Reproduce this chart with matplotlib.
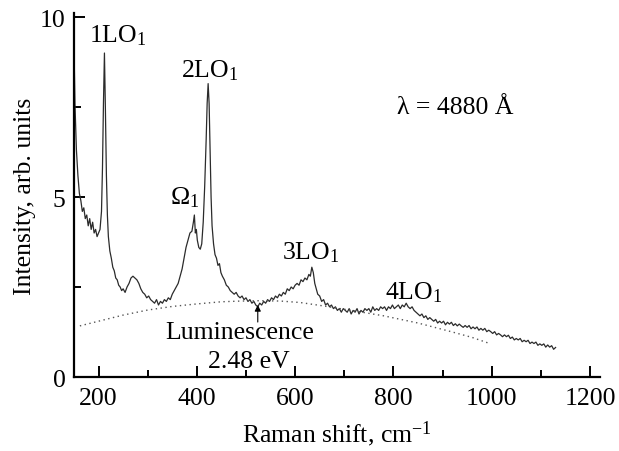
import matplotlib
matplotlib.use("Agg")
import matplotlib.pyplot as plt
from matplotlib.ticker import MultipleLocator

plt.rcParams['font.family'] = ['Liberation Serif', 'DejaVu Serif']
plt.rcParams['mathtext.fontset'] = 'custom'
plt.rcParams['mathtext.rm'] = 'Liberation Serif'
plt.rcParams['mathtext.default'] = 'regular'

FS = 18.5

# Raman spectrum (Raman shift in cm^-1, intensity in arb. units)
shift = [150, 152, 155, 158, 161, 164, 167, 170, 173, 176, 179, 182, 185, 188, 191, 194, 197, 200, 203,
         206, 208, 210, 212, 214, 216, 218, 220, 223, 226, 229, 232, 235, 238, 241, 244, 247, 250, 254,
         258, 262, 266, 270, 274, 278, 282, 286, 290, 294, 298, 302, 306, 310, 314, 318, 322, 326, 330,
         334, 338, 342, 346, 350, 354, 358, 362, 366, 370, 374, 378, 382, 386, 390, 393, 395, 397, 399,
         401, 404, 407, 410, 413, 416, 419, 421, 423, 425, 427, 429, 431, 434, 437, 440, 443, 446, 449,
         452, 456, 460, 464, 468, 472, 476, 480, 484, 488, 492, 496, 500, 504, 508, 512, 516, 520, 524,
         528, 532, 536, 540, 544, 548, 552, 556, 560, 564, 568, 572, 576, 580, 584, 588, 592, 596, 600,
         604, 608, 612, 616, 620, 624, 628, 631, 634, 637, 640, 643, 646, 650, 654, 658, 662, 666, 670,
         674, 678, 682, 686, 690, 694, 698, 702, 706, 710, 714, 718, 722, 726, 730, 734, 738, 742, 746,
         750, 754, 758, 762, 766, 770, 774, 778, 782, 786, 790, 794, 798, 802, 806, 810, 814, 818, 822,
         826, 830, 834, 838, 842, 846, 850, 854, 858, 862, 866, 870, 874, 878, 882, 886, 890, 894, 898,
         902, 906, 910, 914, 918, 922, 926, 930, 934, 938, 942, 946, 950, 954, 958, 962, 966, 970, 974,
         978, 982, 986, 990, 994, 998, 1002, 1006, 1010, 1014, 1018, 1022, 1026, 1030, 1034, 1038, 1042,
         1046, 1050, 1054, 1058, 1062, 1066, 1070, 1074, 1078, 1082, 1086, 1090, 1094, 1098, 1102, 1106,
         1110, 1114, 1118, 1122, 1126, 1130]
intensity = [9.2, 7.6, 6.3, 5.6, 5.1, 4.9, 4.6, 4.7, 4.4, 4.5, 4.2, 4.4, 4.1, 4.3, 4.0, 4.1, 3.9, 4.0, 4.1,
             4.6, 5.8, 7.6, 9.0, 7.4, 5.6, 4.5, 3.9, 3.5, 3.3, 3.05, 2.95, 2.75, 2.7, 2.55, 2.5, 2.4, 2.45, 2.35,
             2.5, 2.6, 2.75, 2.8, 2.75, 2.7, 2.6, 2.45, 2.35, 2.3, 2.2, 2.25, 2.15, 2.1, 2.05, 2.15, 2.0, 2.1, 2.05,
             2.15, 2.1, 2.2, 2.15, 2.3, 2.4, 2.5, 2.6, 2.8, 3.0, 3.3, 3.6, 3.8, 4.0, 4.05, 4.3, 4.5, 4.0, 4.1,
             3.8, 3.6, 3.55, 3.7, 4.3, 5.3, 6.6, 7.6, 8.15, 7.6, 6.3, 5.0, 4.2, 3.7, 3.4, 3.3, 3.1, 3.15, 2.9,
             2.8, 2.7, 2.55, 2.5, 2.4, 2.35, 2.3, 2.35, 2.25, 2.2, 2.25, 2.15, 2.2, 2.1, 2.15, 2.05, 2.1, 2.0, 1.95,
             2.05, 2.0, 2.1, 2.05, 2.15, 2.1, 2.2, 2.15, 2.25, 2.2, 2.3, 2.25, 2.35, 2.3, 2.45, 2.4, 2.5, 2.45, 2.55,
             2.6, 2.55, 2.7, 2.65, 2.75, 2.7, 2.85, 2.8, 3.05, 2.9, 2.6, 2.45, 2.3, 2.25, 2.1, 2.15, 2.0, 2.05, 1.95,
             2.0, 1.9, 1.95, 1.85, 1.9, 1.8, 1.9, 1.85, 1.8, 1.9, 1.75, 1.85, 1.8, 1.9, 1.75, 1.85, 1.8, 1.9, 1.85,
             1.9, 1.8, 1.95, 1.85, 1.9, 1.85, 1.95, 1.9, 1.95, 1.85, 1.95, 1.9, 2.0, 1.9, 1.95, 2.0, 1.9, 2.0, 1.95,
             2.05, 1.95, 1.9, 1.95, 1.85, 1.8, 1.75, 1.7, 1.75, 1.65, 1.7, 1.6, 1.65, 1.6, 1.55, 1.6, 1.5, 1.55, 1.5,
             1.55, 1.45, 1.52, 1.47, 1.52, 1.43, 1.48, 1.42, 1.47, 1.42, 1.38, 1.43, 1.38, 1.43, 1.34, 1.39, 1.34, 1.39, 1.3,
             1.35, 1.3, 1.35, 1.26, 1.3, 1.26, 1.21, 1.26, 1.17, 1.21, 1.17, 1.12, 1.17, 1.12, 1.16, 1.07, 1.11,
             1.03, 1.07, 1.03, 1.07, 0.98, 1.02, 0.98, 1.02, 0.93, 0.97, 0.93, 0.97, 0.88, 0.92, 0.88, 0.92,
             0.83, 0.89, 0.83, 0.87, 0.77, 0.82]

# Broad luminescence background (dotted)
lum_shift = [162, 200, 250, 300, 350, 400, 450, 490, 530, 570, 610, 650, 710, 780, 850, 920, 960, 996]
lum_intensity = [1.42, 1.55, 1.72, 1.86, 1.96, 2.03, 2.09, 2.11, 2.12, 2.11, 2.07, 1.99, 1.86, 1.7, 1.5, 1.25, 1.1, 0.93]

peak_labels = ['1LO$_1$', '2LO$_1$', '$\u03A9_1$', '3LO$_1$', '4LO$_1$']
peak_label_pos = [(239, 9.5), (426, 8.55), (375, 5.0), (632, 3.47), (842, 2.36)]

fig = plt.figure(figsize=(6.19, 4.52), dpi=100)
ax = fig.add_axes([0.1195, 0.1637, 0.8495, 0.8044])

ax.plot(shift, intensity, color='#2b2b2b', lw=0.9)
ax.plot(lum_shift, lum_intensity, color='#555555', lw=1.0, linestyle=(0, (1, 2.5)))

for txt, (px, py) in zip(peak_labels, peak_label_pos):
    ax.text(px, py, txt, fontsize=FS, ha='center', va='center')

ax.text(925, 7.5, '\u03bb = 4880 \u00c5', fontsize=FS, ha='center', va='center')
ax.text(487, 1.25, 'Luminescence', fontsize=FS, ha='center', va='center')
ax.text(505, 0.45, '2.48 eV', fontsize=FS, ha='center', va='center')
ax.annotate('', xy=(524, 2.08), xytext=(524, 1.45),
            arrowprops=dict(arrowstyle='-|>', color='black', lw=0.8, mutation_scale=9))

ax.set_xlim(150, 1220)
ax.set_ylim(0, 10.1)
ax.xaxis.set_major_locator(MultipleLocator(200))
ax.xaxis.set_minor_locator(MultipleLocator(100))
ax.set_yticks([0, 5, 10])
ax.yaxis.set_minor_locator(MultipleLocator(2.5))
ax.tick_params(which='both', direction='in', width=1.4, labelsize=FS)
ax.tick_params(which='major', length=8)
ax.tick_params(which='minor', length=5)
ax.tick_params(axis='x', pad=7)
ax.tick_params(axis='y', pad=6)
for side in ['top', 'right']:
    ax.spines[side].set_visible(False)
for side in ['left', 'bottom']:
    ax.spines[side].set_linewidth(1.6)

ax.set_xlabel('Raman shift, cm$^{-1}$', fontsize=FS, labelpad=7)
ax.set_ylabel('Intensity, arb. units', fontsize=FS, labelpad=3)

fig.savefig('out.png', dpi=100)
